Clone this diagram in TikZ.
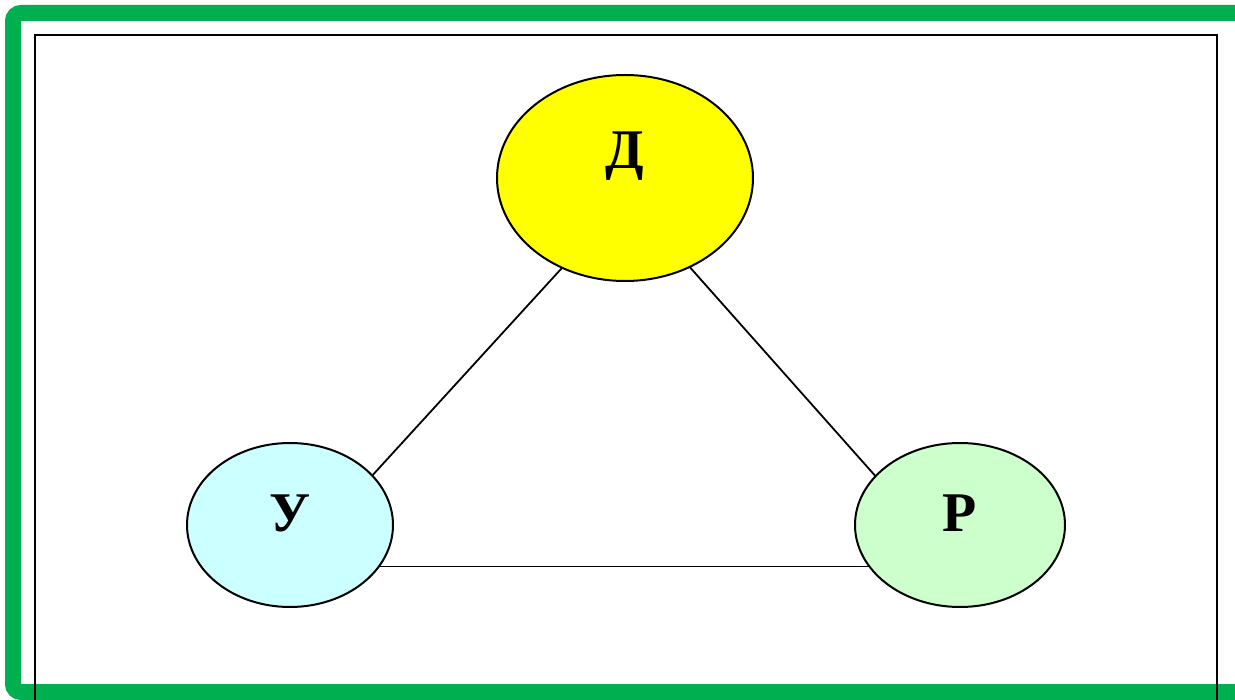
\documentclass[tikz,border=0pt]{standalone}
\usepackage{fontspec}
\setmainfont{Liberation Serif}
\usetikzlibrary{shapes.geometric, calc}
\definecolor{framegreen}{rgb}{0, 0.686, 0.314}
\definecolor{pcyan}{rgb}{0.8, 1, 1}
\definecolor{pgreen}{rgb}{0.8, 1, 0.8}
\definecolor{pyellow}{rgb}{1, 1, 0}
\tikzset{blob/.style={ellipse, draw=black, line width=2pt, inner sep=0pt, outer sep=0pt},
         lettr/.style={inner sep=0pt, font=\fontsize{56}{56}\selectfont\bfseries}}

\begin{document}
\begin{tikzpicture}[x=1pt, y=-1pt]
        \useasboundingbox (0,0) rectangle (1235,700);
        \clip (0,0) rectangle (1235,700);

        % frames
        \draw [framegreen, line width=16pt, rounded corners=8pt] (13,13) rectangle (1260,692);
        \draw [line width=2.2pt] (35,35) rectangle (1217,720);

        % the three ovals
        \node [blob, fill=pyellow, minimum width=256pt, minimum height=206pt,
            label={[lettr, yshift=22pt]center:Д}] (d) at (625,178) {};
        \node [blob, fill=pcyan, minimum width=206pt, minimum height=164pt,
            label={[lettr, yshift=12pt]center:У}] (u) at (290,525) {};
        \node [blob, fill=pgreen, minimum width=210pt, minimum height=164pt,
            label={[lettr, yshift=12pt]center:Р}] (r) at (960,525) {};

        \path [line width=1.8pt] (d.-125) edge (u.31)
            (d.-54) edge (r.150)
            (u.-25) edge (u.-25 -| r.205);
\end{tikzpicture}
\end{document}
